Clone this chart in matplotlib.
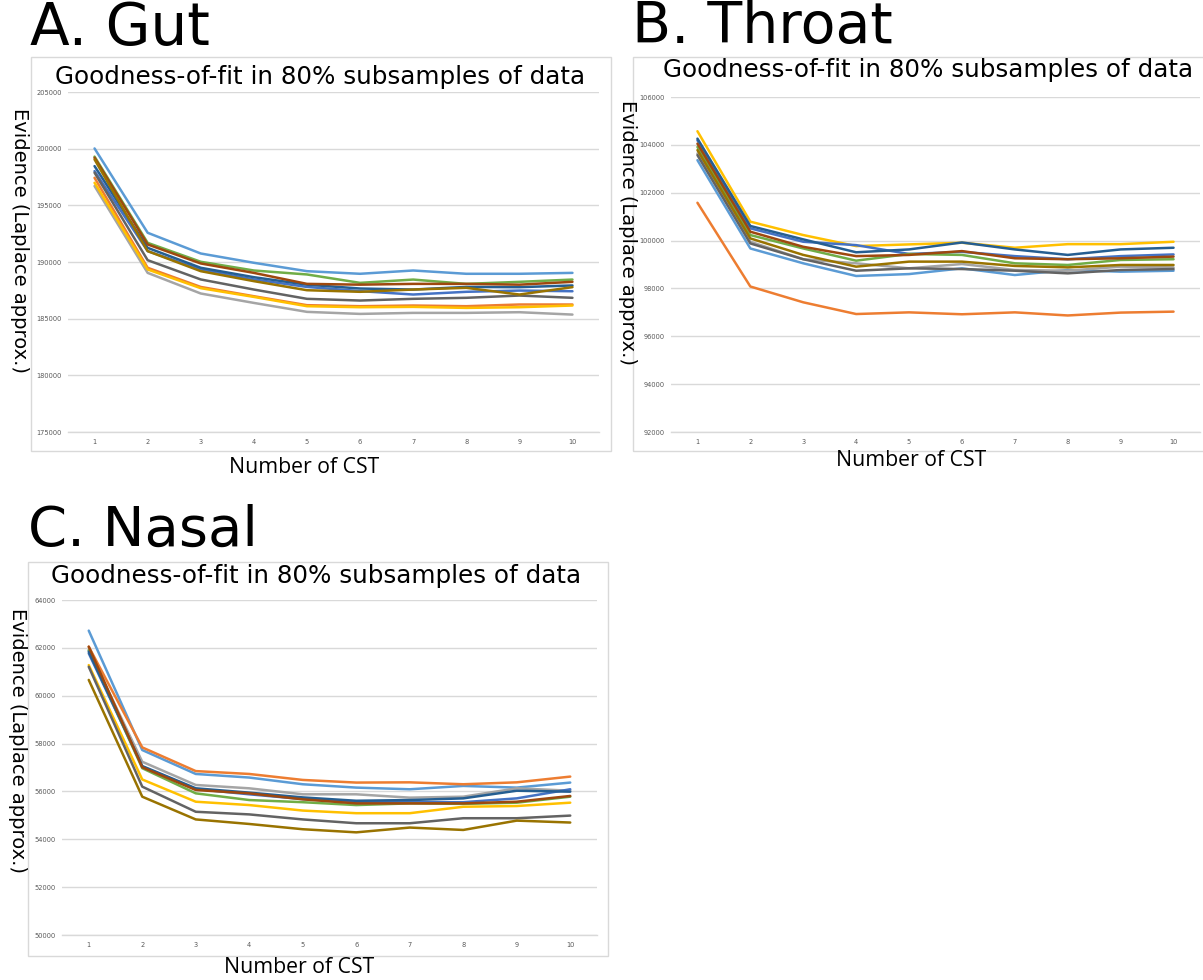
import matplotlib
matplotlib.use("Agg")
import matplotlib.pyplot as plt
from matplotlib.patches import Rectangle

# ---------------- data ----------------
cst = [1, 2, 3, 4, 5, 6, 7, 8, 9, 10]

series_names = ["s1", "s2", "s3", "s4", "s5", "s6", "s7", "s8", "s9", "s10"]
series_colors = ["#5B9BD5", "#ED7D31", "#A5A5A5", "#FFC000", "#4472C4",
                 "#70AD47", "#255E91", "#9E480E", "#636363", "#997300"]

gut_s1 = [200020, 192580, 190750, 189930, 189190, 188960, 189250, 188960, 188960, 189040]
gut_s2 = [197430, 189490, 187800, 186980, 186190, 186100, 186160, 186100, 186250, 186250]
gut_s3 = [196700, 189040, 187220, 186390, 185600, 185420, 185510, 185510, 185570, 185360]
gut_s4 = [196990, 189340, 187690, 186920, 186100, 186010, 186040, 185950, 186010, 186160]
gut_s5 = [198020, 190960, 189340, 188460, 187800, 187430, 187130, 187370, 187480, 187420]
gut_s6 = [199300, 191690, 190020, 189250, 188900, 188160, 188450, 188070, 188250, 188450]
gut_s7 = [198460, 191250, 189490, 188660, 188000, 187660, 187570, 187800, 187780, 187930]
gut_s8 = [199200, 191550, 189870, 189040, 188070, 188000, 188070, 188070, 188000, 188250]
gut_s9 = [197880, 190160, 188460, 187570, 186750, 186600, 186750, 186840, 187040, 186840]
gut_s10 = [199050, 190960, 189190, 188310, 187510, 187370, 187570, 187720, 187130, 187780]

throat_s1 = [103360, 99670, 99050, 98520, 98600, 98840, 98560, 98770, 98700, 98740]
throat_s2 = [101580, 98080, 97420, 96930, 97000, 96920, 97000, 96870, 96990, 97030]
throat_s3 = [103640, 99950, 99220, 99050, 98840, 99020, 98770, 98740, 98910, 98880]
throat_s4 = [104570, 100790, 100230, 99770, 99840, 99910, 99700, 99850, 99850, 99950]
throat_s5 = [104190, 100510, 99950, 99810, 99440, 99530, 99350, 99220, 99350, 99420]
throat_s6 = [103910, 100230, 99670, 99160, 99440, 99400, 99050, 98980, 99190, 99220]
throat_s7 = [104260, 100610, 100050, 99510, 99630, 99920, 99630, 99400, 99630, 99700]
throat_s8 = [104050, 100370, 99740, 99350, 99400, 99560, 99260, 99220, 99260, 99330]
throat_s9 = [103570, 99880, 99220, 98740, 98840, 98810, 98740, 98630, 98770, 98810]
throat_s10 = [103780, 100090, 99400, 98910, 99120, 99120, 98940, 98880, 98980, 98980]

nasal_s1 = [62720, 57730, 56730, 56580, 56300, 56160, 56090, 56230, 56160, 56370]
nasal_s2 = [62050, 57840, 56850, 56730, 56480, 56370, 56380, 56300, 56380, 56620]
nasal_s3 = [61910, 57240, 56270, 56130, 55880, 55880, 55740, 55780, 56130, 56030]
nasal_s4 = [61280, 56500, 55570, 55430, 55200, 55090, 55090, 55360, 55390, 55530]
nasal_s5 = [61770, 57040, 56100, 55880, 55680, 55550, 55550, 55550, 55710, 56090]
nasal_s6 = [61900, 56970, 55920, 55640, 55550, 55430, 55500, 55480, 55530, 55780]
nasal_s7 = [61840, 57060, 56130, 55950, 55750, 55610, 55640, 55710, 56030, 55990]
nasal_s8 = [62050, 57010, 56060, 55920, 55670, 55500, 55500, 55500, 55570, 55810]
nasal_s9 = [61210, 56200, 55150, 55040, 54830, 54670, 54670, 54880, 54880, 54990]
nasal_s10 = [60660, 55780, 54830, 54640, 54420, 54290, 54490, 54390, 54780, 54700]

gut_yticks = [175000, 180000, 185000, 190000, 195000, 200000, 205000]
throat_yticks = [92000, 94000, 96000, 98000, 100000, 102000, 104000, 106000]
nasal_yticks = [50000, 52000, 54000, 56000, 58000, 60000, 62000, 64000]

panel_labels = ["A. Gut", "B. Throat", "C. Nasal"]
title_text = "Goodness-of-fit in 80% subsamples of data"
xlabel_text = "Number of CST"
ylabel_text = "Evidence (Laplace approx.)"

# ---------------- layout helpers ----------------
W, H = 1203, 980
fig = plt.figure(figsize=(W / 100, H / 100), dpi=100)
fig.patch.set_facecolor("white")


def rect(l, t, r, b):
    return [l / W, 1 - b / H, (r - l) / W, (b - t) / H]


def fx(x):
    return x / W


def fy(y):
    return 1 - y / H


renderer = fig.canvas.get_renderer()


def fit_text(x, y, s, target, size, vertical=False, **kw):
    t = fig.text(fx(x), fy(y), s, fontsize=size, **kw)
    bb = t.get_window_extent(renderer=renderer)
    cur = bb.height if vertical else bb.width
    if cur > 0:
        t.set_fontsize(size * target / cur)
    return t


def box(l, t, r, b):
    fig.patches.append(Rectangle((fx(l), fy(b)), (r - l) / W, (b - t) / H,
                                 transform=fig.transFigure, fill=False,
                                 edgecolor="#D9D9D9", linewidth=1.0, zorder=0))


panels = [
    dict(data=[gut_s1, gut_s2, gut_s3, gut_s4, gut_s5, gut_s6, gut_s7, gut_s8, gut_s9, gut_s10],
         yticks=gut_yticks, ax=(68, 92, 599, 432), box=(31, 57, 611, 451),
         label=(30, 28, 180), title=(320, 77), xlab=(304, 467), ylab=(19, 240)),
    dict(data=[throat_s1, throat_s2, throat_s3, throat_s4, throat_s5, throat_s6, throat_s7,
               throat_s8, throat_s9, throat_s10],
         yticks=throat_yticks, ax=(671, 97, 1200, 432), box=(633, 57, 1210, 451),
         label=(632, 28, 261), title=(928, 70), xlab=(911, 461), ylab=(627, 233)),
    dict(data=[nasal_s1, nasal_s2, nasal_s3, nasal_s4, nasal_s5, nasal_s6, nasal_s7,
               nasal_s8, nasal_s9, nasal_s10],
         yticks=nasal_yticks, ax=(62, 600, 597, 935), box=(28, 562, 608, 956),
         label=(28, 531, 230), title=(316, 576), xlab=(299, 967), ylab=(17, 740)),
]

for i, p in enumerate(panels):
    box(*p["box"])
    ax = fig.add_axes(rect(*p["ax"]))
    ax.set_facecolor("none")
    for vals, col, name in zip(p["data"], series_colors, series_names):
        ax.plot(cst, vals, color=col, linewidth=1.8, label=name,
                solid_joinstyle="round", solid_capstyle="round", zorder=3)
    ax.set_xlim(0.5, 10.5)
    ax.set_ylim(p["yticks"][0], p["yticks"][-1])
    ax.set_yticks(p["yticks"])
    ax.set_yticklabels([str(v) for v in p["yticks"]])
    ax.set_xticks(cst)
    ax.set_xticklabels([str(v) for v in cst])
    ax.grid(axis="y", color="#D9D9D9", linewidth=1.0, zorder=0)
    ax.grid(axis="x", visible=False)
    for name_sp, sp in ax.spines.items():
        sp.set_visible(name_sp == "bottom")
    ax.spines["bottom"].set_color("#D9D9D9")
    ax.spines["bottom"].set_linewidth(1.0)
    ax.tick_params(length=0, labelsize=4.8, labelcolor="#595959", pad=4.5)
    ax.tick_params(axis="x", pad=5)

    lx, ly, lw = p["label"]
    fit_text(lx, ly, panel_labels[i], lw, 42, ha="left", va="center",
             family="DejaVu Sans", color="black")
    tx, ty = p["title"]
    fit_text(tx, ty, title_text, 530, 15, ha="center", va="center",
             family="DejaVu Sans", color="black")
    xx, xy = p["xlab"]
    fit_text(xx, xy, xlabel_text, 150, 15, ha="center", va="center",
             family="Open Sans", color="black")
    yx, yy = p["ylab"]
    fit_text(yx, yy, ylabel_text, 265, 13, vertical=True, ha="center", va="center",
             rotation=270, family="DejaVu Sans", color="black")

fig.savefig("out.png", dpi=100, facecolor="white")
